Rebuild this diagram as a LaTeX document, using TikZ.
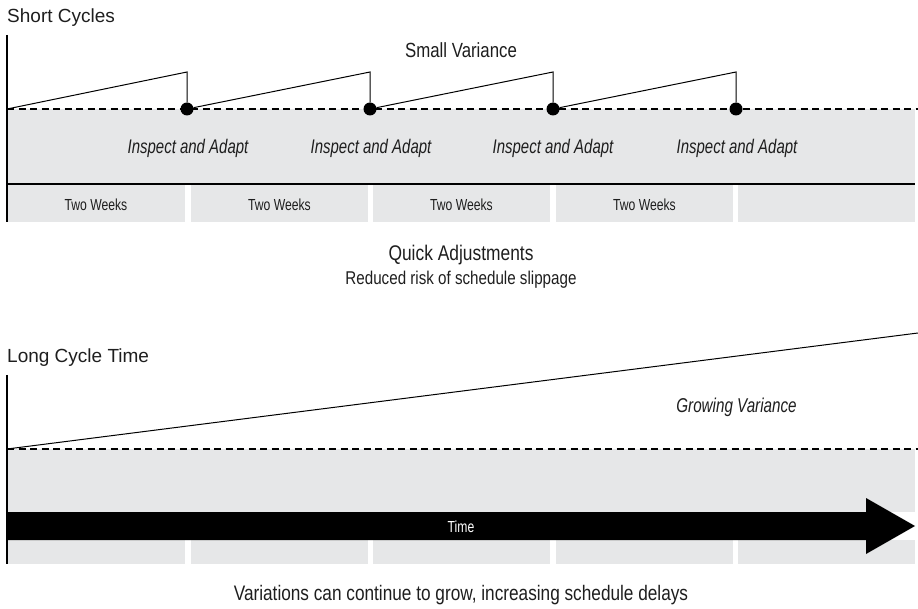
\documentclass[tikz,border=0pt]{standalone}
\usepackage{fontspec}
\setmainfont{Liberation Sans}
\newfontfamily\narrowfont[FakeStretch=0.82]{Liberation Sans}
\newfontfamily\slimfont[FakeStretch=0.76]{Liberation Sans}

\definecolor{band}{HTML}{E6E7E8}
\definecolor{ink}{HTML}{1E1E1E}

\tikzset{
  heading/.style={anchor=base west, inner sep=0pt, text=ink,
    font=\fontsize{19}{19}\selectfont},
  note/.style={anchor=base, inner sep=0pt, text=ink},
  phase/.style={anchor=base, inner sep=0pt, text=ink,
    font=\slimfont\itshape\fontsize{19.7}{21}\selectfont},
  span/.style={anchor=base, inner sep=0pt, text=ink,
    font=\slimfont\fontsize{16}{17}\selectfont},
  plan/.style={dash pattern=on 7pt off 4.5pt, line width=1.1pt},
  drift/.style={line width=1pt},
  axis/.style={line width=1.4pt},
  checkpoint/.style={circle, fill=black, inner sep=0pt, minimum size=13pt},
}

\begin{document}
\begin{tikzpicture}[x=1pt, y=-1pt]
\useasboundingbox (0,0) rectangle (918,609);

%% ---------- Short cycles ----------
\node[heading] (shortT) at (7,22.5) {Short Cycles};

% shaded plan band and two-week slots
\fill[band] (7,109) rectangle (915,184);
\foreach \a/\b in {7/185,191/368,373/550,556/733,738/915}
  \fill[band] (\a,184) rectangle (\b,222);
\draw[line width=1.4pt] (7,184) -- (915,184);
\draw[plan] (7,109) -- (918,109);
\draw[axis] (7,35) -- (7,222);

% inspect-and-adapt checkpoints
\coordinate (s0) at (7,109);
\foreach \i/\x in {1/187,2/370,3/553,4/736} {
  \node[checkpoint] (c\i) at (\x,109) {};
  \coordinate (p\i) at (\x,72);
}
\draw[drift] (s0) -- (p1) -- (c1) -- (p2) -- (c2) -- (p3) -- (c3) -- (p4) -- (c4);

\node[note, font=\narrowfont\fontsize{20.5}{22}\selectfont] (smallV) at (461,58) {Small Variance};

\foreach \i/\x in {1/188,2/371,3/553,4/737}
  \node[phase] (ia\i) at (\x,154) {Inspect and Adapt};

\foreach \i/\x in {1/96,2/279.5,3/461.5,4/644.5}
  \node[span] (tw\i) at (\x,210.7) {Two Weeks};

\node[note, font=\narrowfont\fontsize{21.2}{23}\selectfont] (quick) at (461,260.7) {Quick Adjustments};
\node[note, font=\narrowfont\fontsize{18.5}{20}\selectfont] (reduced) at (461,285) {Reduced risk of schedule slippage};

%% ---------- Long cycle ----------
\node[heading] (longT) at (7,362.7) {Long Cycle Time};

\fill[band] (7,449) rectangle (915,512);
\foreach \a/\b in {7/185,191/368,373/550,556/733,738/915}
  \fill[band] (\a,540) rectangle (\b,564);
\draw[plan] (7,449) -- (918,449);
\draw[axis] (7,375) -- (7,564);

\coordinate (g0) at (7,449);
\coordinate (g1) at (918,333);
\draw[drift] (g0) -- (g1);

% time arrow
\fill[black] (7,512) -- (866,512) -- (866,498) -- (915,526) -- (866,554)
  -- (866,540) -- (7,540) -- cycle;
\node[span, text=white] (time) at (461,532.7) {Time};

\node[phase, font=\slimfont\itshape\fontsize{20}{21}\selectfont] (growV) at (736.5,412.7) {Growing Variance};

\node[note, font=\narrowfont\fontsize{21}{23}\selectfont] (variations) at (461,600)
  {Variations can continue to grow, increasing schedule delays};
\end{tikzpicture}
\end{document}
